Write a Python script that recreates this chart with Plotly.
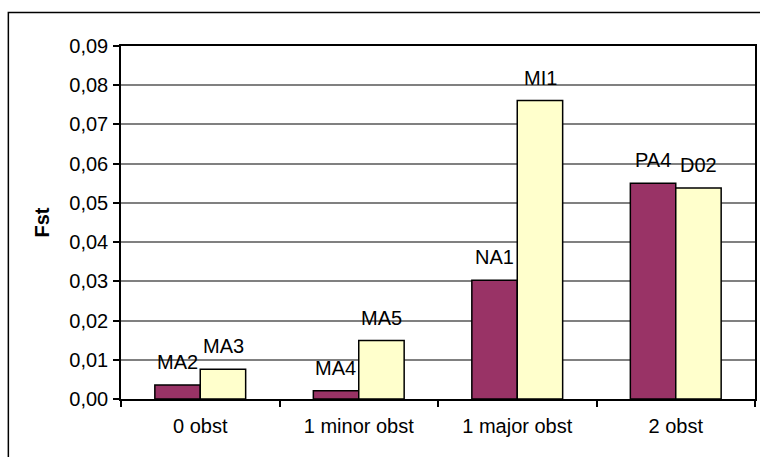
import plotly.graph_objects as go

categories = ["0 obst", "1 minor obst", "1 major obst", "2 obst"]
series1_values = [0.0036, 0.0021, 0.0303, 0.0550]
series2_values = [0.0076, 0.0149, 0.0761, 0.0538]
series1_labels = ["MA2", "MA4", "NA1", "PA4"]
series2_labels = ["MA3", "MA5", "MI1", "D02"]
y_ticks = [0, 0.01, 0.02, 0.03, 0.04, 0.05, 0.06, 0.07, 0.08, 0.09]

FONT = "Liberation Sans, Arial, sans-serif"
W, H = 760, 457
ML, MR, MT, MB = 121, 3, 46, 58
pw, ph = W - ML - MR, H - MT - MB

fig = go.Figure()
fig.add_trace(go.Bar(x=categories, y=series1_values, name="s1",
                     marker=dict(color="#993366", line=dict(color="black", width=1.5))))
fig.add_trace(go.Bar(x=categories, y=series2_values, name="s2",
                     marker=dict(color="#FFFFCC", line=dict(color="black", width=1.5))))

bargap = 0.427
cat_px = pw / len(categories)
half = cat_px * (1 - bargap) / 4
annotations = []
for labels, vals, sign in [(series1_labels, series1_values, -1), (series2_labels, series2_values, 1)]:
    for c, v, t in zip(categories, vals, labels):
        annotations.append(dict(x=c, y=v, text=t, showarrow=False, xshift=sign * half,
                                yshift=23, yanchor="middle", xanchor="center",
                                font=dict(family=FONT, size=20, color="black")))

shapes = [dict(type="rect", xref="paper", yref="paper",
               x0=(8 - ML) / pw, x1=(765 - ML) / pw,
               y0=(H - MB - 465) / ph, y1=(H - MB - 12.5) / ph,
               line=dict(color="black", width=1.5), fillcolor="rgba(0,0,0,0)", layer="below")]

fig.update_layout(
    width=W, height=H, margin=dict(l=ML, r=MR, t=MT, b=MB),
    paper_bgcolor="white", plot_bgcolor="white",
    barmode="group", bargap=bargap, bargroupgap=0,
    showlegend=False, separators=",.",
    font=dict(family=FONT, size=20, color="black"),
    annotations=annotations, shapes=shapes,
)
fig.update_xaxes(showline=True, linecolor="black", linewidth=1.5, mirror=True,
                 ticks="outside", ticklen=6, tickwidth=1.5, tickcolor="black",
                 tickson="boundaries", showgrid=False, ticklabelstandoff=8,
                 tickfont=dict(family=FONT, size=20, color="black"))
fig.update_yaxes(range=[0, 0.09], tickvals=y_ticks, tickformat=".2f",
                 showline=True, linecolor="black", linewidth=1.5, mirror=True,
                 ticks="outside", ticklen=6, tickwidth=1.5, tickcolor="black",
                 showgrid=True, gridcolor="#808080", gridwidth=1.5,
                 zeroline=False, ticklabelstandoff=1,
                 tickfont=dict(family=FONT, size=20, color="black"),
                 title=dict(text="<b>Fst</b>", standoff=14,
                            font=dict(family=FONT, size=20, color="black")))

fig.write_html("out.html", config={"displayModeBar": False},
               post_script="document.body.style.margin='0';document.body.style.overflow='hidden';")
